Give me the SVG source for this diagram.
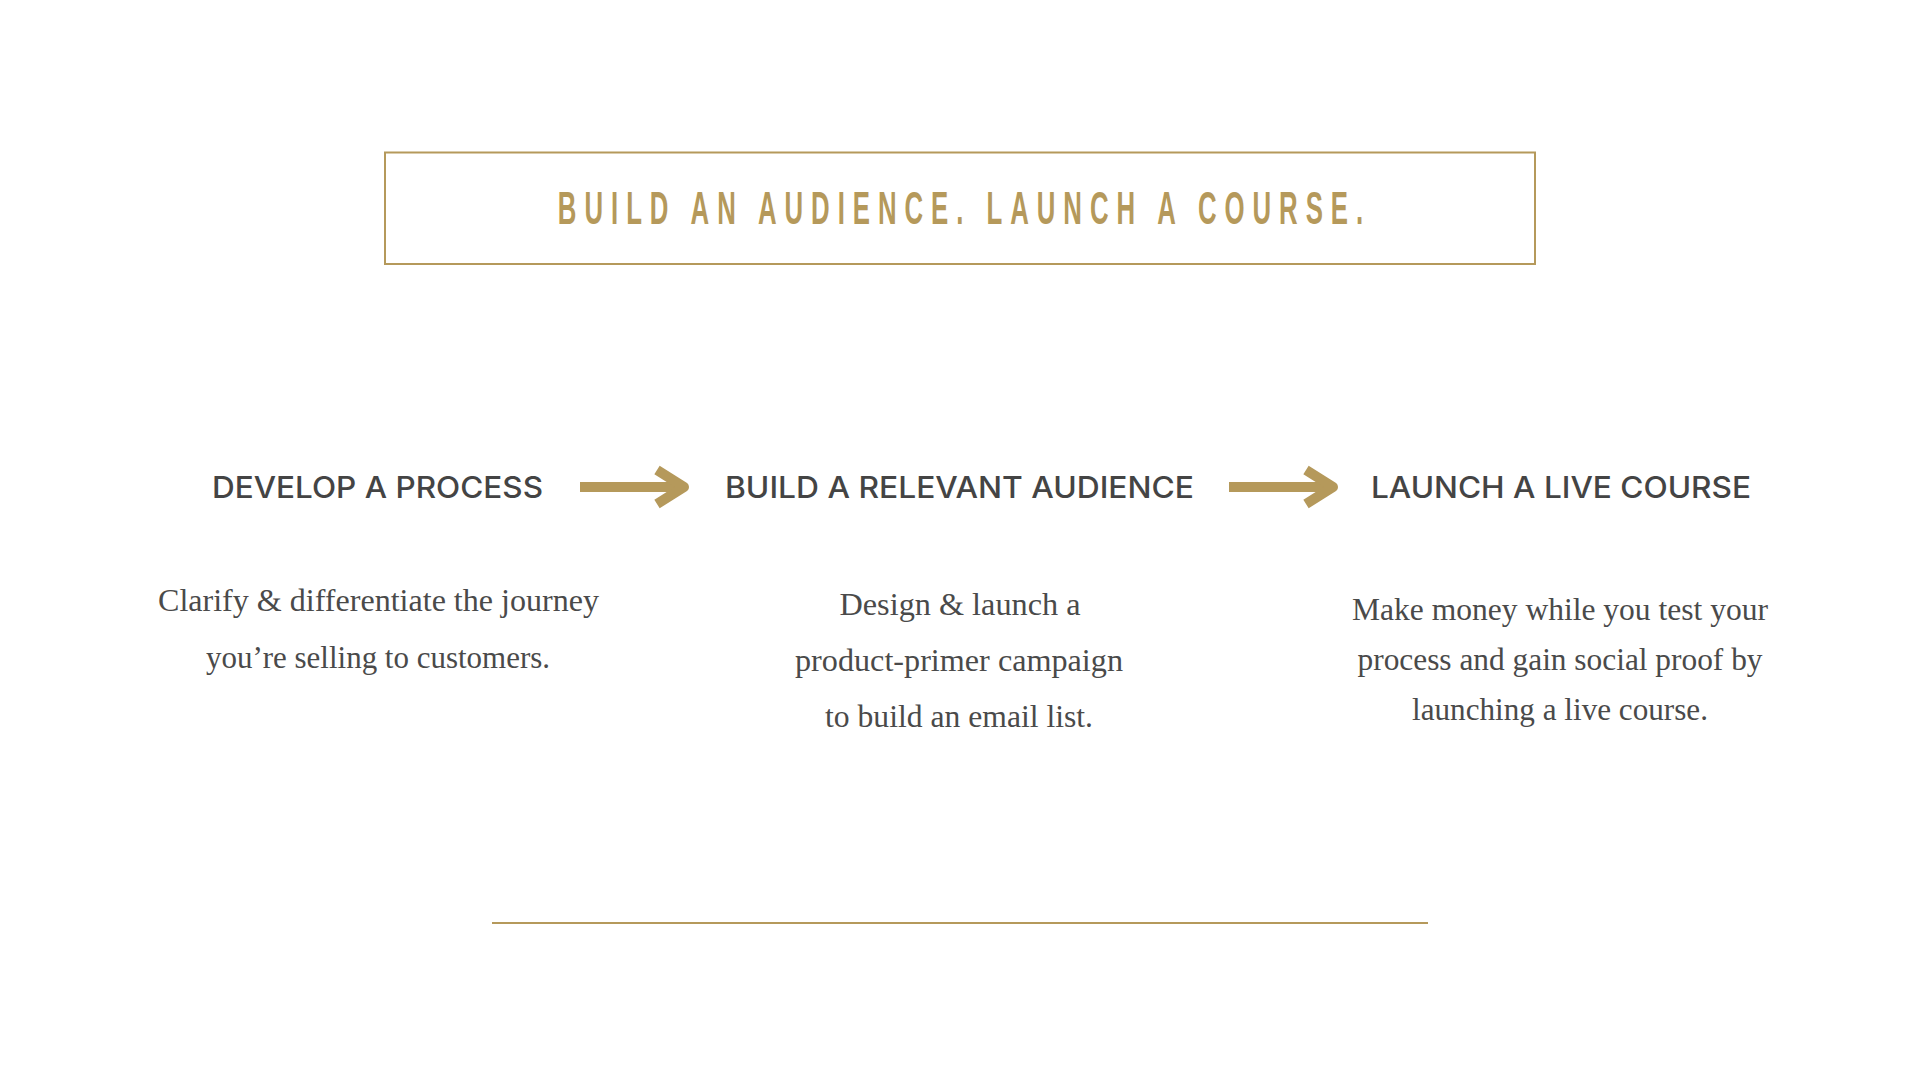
<svg xmlns="http://www.w3.org/2000/svg" width="1920" height="1080" viewBox="0 0 1920 1080">
  <style>
    .gold-stroke { fill: none; stroke: #b5995b; }
    .title { font-family: "Liberation Sans", "DejaVu Sans", sans-serif; font-weight: bold; font-size: 46px; fill: #b5995b; }
    .head { font-family: "Inter", "Lato", "Noto Sans", sans-serif; font-weight: 500; font-size: 30px; fill: #444444; text-anchor: middle; }
    .body { font-family: "Liberation Serif", "DejaVu Serif", serif; font-size: 32px; fill: #4a4a4a; text-anchor: middle; }
    .arrow { fill: none; stroke: #b5995b; stroke-width: 10; }
  </style>
  <rect width="1920" height="1080" fill="#ffffff"/>

  <g id="title">
    <rect class="gold-stroke" x="385" y="152.5" width="1150" height="111.5" stroke-width="2"/>
    <text class="title" transform="translate(960.5,224) scale(0.56,1)" x="0" y="0" text-anchor="middle" textLength="1438" lengthAdjust="spacing">BUILD AN AUDIENCE. LAUNCH A COURSE.</text>
  </g>

  <g id="step-develop">
    <text class="head" x="377.5" y="498" textLength="331" lengthAdjust="spacingAndGlyphs">DEVELOP A PROCESS</text>
    <text class="body" x="378.5" y="611" textLength="441" lengthAdjust="spacingAndGlyphs">Clarify &amp; differentiate the journey</text>
    <text class="body" x="378" y="668" textLength="344" lengthAdjust="spacingAndGlyphs">you’re selling to customers.</text>
  </g>

  <g id="step-audience">
    <text class="head" x="959.5" y="498" textLength="469" lengthAdjust="spacingAndGlyphs">BUILD A RELEVANT AUDIENCE</text>
    <text class="body" x="960" y="615" textLength="241" lengthAdjust="spacingAndGlyphs">Design &amp; launch a</text>
    <text class="body" x="959" y="671" textLength="328" lengthAdjust="spacingAndGlyphs">product-primer campaign</text>
    <text class="body" x="959" y="727" textLength="268" lengthAdjust="spacingAndGlyphs">to build an email list.</text>
  </g>

  <g id="step-launch">
    <text class="head" x="1561" y="498" textLength="380" lengthAdjust="spacingAndGlyphs">LAUNCH A LIVE COURSE</text>
    <text class="body" x="1560" y="620" textLength="416" lengthAdjust="spacingAndGlyphs">Make money while you test your</text>
    <text class="body" x="1560" y="670" textLength="405" lengthAdjust="spacingAndGlyphs">process and gain social proof by</text>
    <text class="body" x="1560" y="720" textLength="296" lengthAdjust="spacingAndGlyphs">launching a live course.</text>
  </g>

  <g id="connectors">
    <g id="arrow-1">
      <path class="arrow" d="M580 487 H682" stroke-width="9.5"/>
      <path class="arrow" d="M657 470 L684 487 L657 504" stroke-linejoin="round" stroke-linecap="butt"/>
    </g>
    <g id="arrow-2">
      <path class="arrow" d="M1229 487 H1331" stroke-width="9.5"/>
      <path class="arrow" d="M1306 470 L1333 487 L1306 504" stroke-linejoin="round" stroke-linecap="butt"/>
    </g>
  </g>

  <g id="divider">
    <line x1="492" y1="923" x2="1428" y2="923" stroke="#b5995b" stroke-width="2"/>
  </g>
</svg>
